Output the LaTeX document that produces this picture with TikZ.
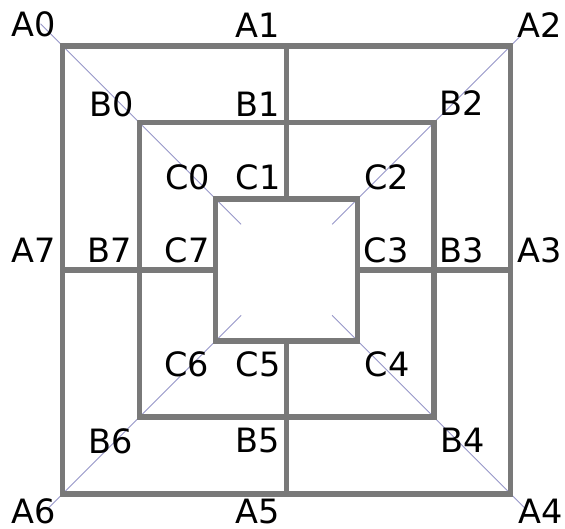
\documentclass[tikz,border=0pt]{standalone}
\usepackage{fontspec}
\setmainfont{DejaVu Sans}
\usetikzlibrary{calc}
\begin{document}
\begin{tikzpicture}[x=1pt,y=-1pt,
  frame/.style={draw=gray!95!black, line width=5.5pt, line cap=butt, line join=miter},
  diag/.style={draw={rgb,255:red,150;green,150;blue,200}, line width=0.9pt},
  lbl/.style={inner sep=0pt, font=\fontsize{33.5}{34}\selectfont, text=black}]
\useasboundingbox (0,0) rectangle (565,528);

% centre and square corners
\coordinate (O) at (286.6,269.8);
\foreach \n/\h in {a/224,b/147.2,c/71}{
  \coordinate (\n0) at ($(O)+(-\h,-\h)$);
  \coordinate (\n1) at ($(O)+(0,-\h)$);
  \coordinate (\n2) at ($(O)+(\h,-\h)$);
  \coordinate (\n3) at ($(O)+(\h,0)$);
  \coordinate (\n4) at ($(O)+(\h,\h)$);
  \coordinate (\n5) at ($(O)+(0,\h)$);
  \coordinate (\n6) at ($(O)+(-\h,\h)$);
  \coordinate (\n7) at ($(O)+(-\h,0)$);
}

% diagonal guide lines
\coordinate (d0o) at ($(O)+(-246,-246)$); \coordinate (d0i) at ($(O)+(-45.5,-45.5)$);
\coordinate (d2o) at ($(O)+(233,-233)$);  \coordinate (d2i) at ($(O)+(45.5,-45.5)$);
\coordinate (d4o) at ($(O)+(240,240)$);   \coordinate (d4i) at ($(O)+(45.5,45.5)$);
\coordinate (d6o) at ($(O)+(-238,238)$);  \coordinate (d6i) at ($(O)+(-45.5,45.5)$);
\foreach \k in {0,2,4,6}{\draw[diag] (d\k o) -- (d\k i);}

% three squares and the cross connections
\draw[frame] (a0) -- (a2) -- (a4) -- (a6) -- cycle;
\draw[frame] (b0) -- (b2) -- (b4) -- (b6) -- cycle;
\draw[frame] (c0) -- (c2) -- (c4) -- (c6) -- cycle;
\draw[frame] (a1) -- (c1);
\draw[frame] (a3) -- (c3);
\draw[frame] (a5) -- (c5);
\draw[frame] (a7) -- (c7);

% labels
\node[lbl] (LA0) at (34,24.5) {A0};
\node[lbl] (LA1) at (257.5,25) {A1};
\node[lbl] (LA2) at (539.5,25.5) {A2};
\node[lbl] (LB0) at (111.7,104) {B0};
\node[lbl] (LB1) at (258,104) {B1};
\node[lbl] (LB2) at (461.7,103.5) {B2};
\node[lbl] (LC0) at (187.5,177) {C0};
\node[lbl] (LC1) at (258.3,177) {C1};
\node[lbl] (LC2) at (386.5,177) {C2};
\node[lbl] (LA7) at (33.3,250) {A7};
\node[lbl] (LB7) at (110,250) {B7};
\node[lbl] (LC7) at (187,250) {C7};
\node[lbl] (LC3) at (386.3,250) {C3};
\node[lbl] (LB3) at (461.7,250) {B3};
\node[lbl] (LA3) at (540,250) {A3};
\node[lbl] (LC6) at (186.7,364) {C6};
\node[lbl] (LC5) at (258.3,364) {C5};
\node[lbl] (LC4) at (387,364) {C4};
\node[lbl] (LB6) at (110.7,441) {B6};
\node[lbl] (LB5) at (258,441) {B5};
\node[lbl] (LB4) at (462.7,440) {B4};
\node[lbl] (LA6) at (34,511.5) {A6};
\node[lbl] (LA5) at (258,511.5) {A5};
\node[lbl] (LA4) at (541,511.5) {A4};
\end{tikzpicture}
\end{document}
